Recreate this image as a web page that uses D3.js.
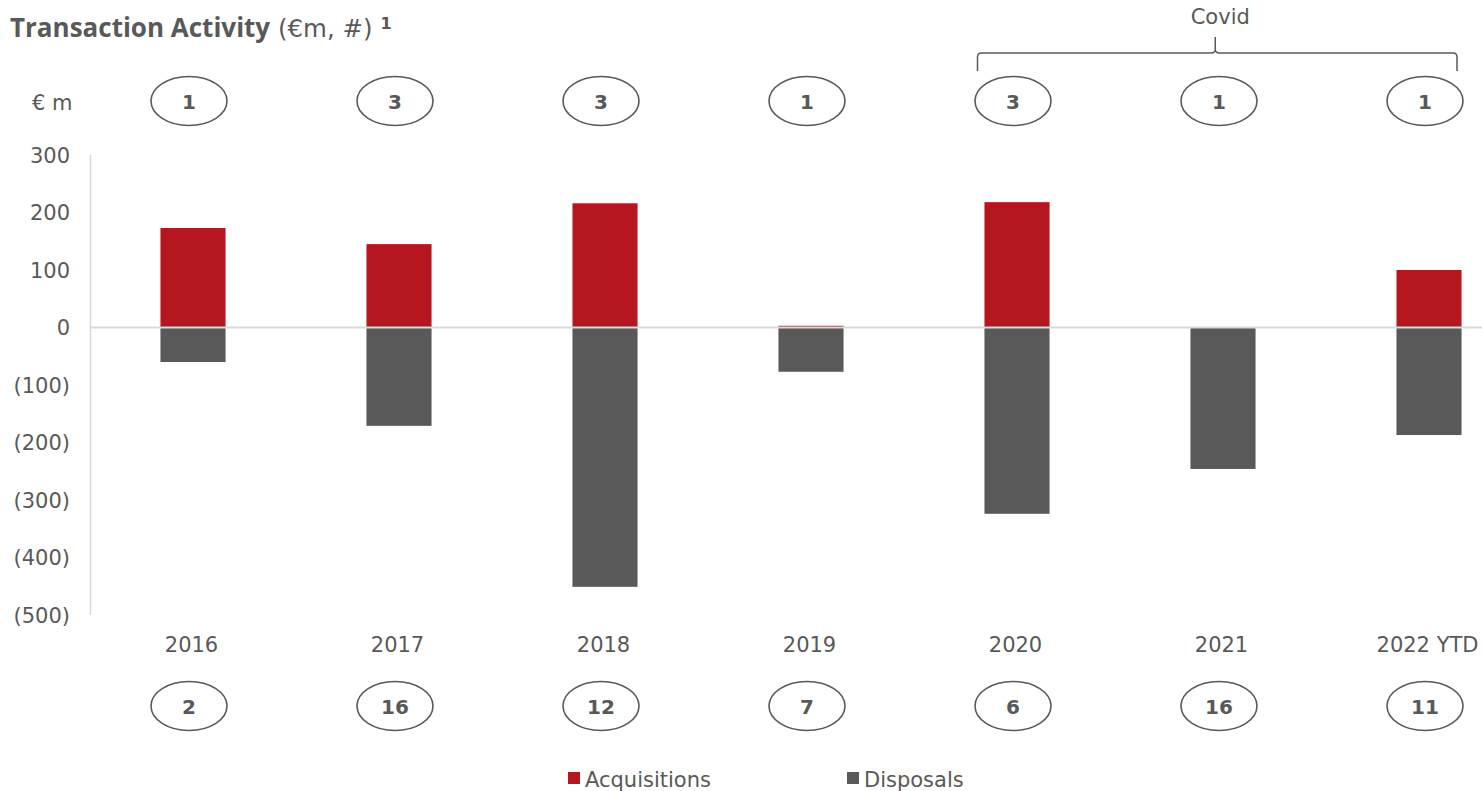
<!DOCTYPE html>
<html>
<head>
<meta charset="utf-8">
<script src="https://cdn.jsdelivr.net/npm/d3@7"></script>
<style>
  html, body { margin: 0; padding: 0; background: #fff; overflow: hidden; }
  svg { display: block; }
  .lbl { font-family: "DejaVu Sans", sans-serif; }
  .ttl { font-family: "Open Sans", sans-serif; }
</style>
</head>
<body>
<svg id="chart" width="1482" height="791"></svg>
<script>
// Transaction activity by year: acquisition and disposal values (€m) plus deal counts
const years = ["2016", "2017", "2018", "2019", "2020", "2021", "2022 YTD"];
const acquisitions = [173, 145, 216, 3, 218, 0, 100];
const disposals = [-60, -171, -451, -77, -324, -246, -187];
const acquisitionCounts = [1, 3, 3, 1, 3, 1, 1];
const disposalCounts = [2, 16, 12, 7, 6, 16, 11];
const yTicks = [300, 200, 100, 0, -100, -200, -300, -400, -500];
const covidYears = ["2020", "2021", "2022 YTD"];

const RED = "#B5161F";
const GREY = "#595959";
const TEXT = "#595959";
const LIGHT = "#D9D9D9";
const FS = 21;

const svg = d3.select("#chart");

const x = d3.scaleBand().domain(years).range([90, 1532]).paddingInner(0.684).paddingOuter(0.342);
const y = d3.scaleLinear().domain([-500, 300]).range([615, 155]);

// Title
const title = svg.append("text")
  .attr("x", 10).attr("y", 37)
  .attr("fill", TEXT);
title.append("tspan").attr("class", "ttl").attr("font-weight", 700).attr("font-size", 26).text("Transaction Activity");
title.append("tspan").attr("class", "lbl").attr("font-size", 24.5).text(" (€m, #) ");
title.append("tspan").attr("class", "lbl").attr("font-weight", 700).attr("font-size", 16).attr("dy", -8).text("1");

// Unit label
svg.append("text")
  .attr("class", "lbl")
  .attr("x", 32).attr("y", 110)
  .attr("fill", TEXT).attr("font-size", FS)
  .text("€ m");

// Y axis line
svg.append("line")
  .attr("x1", 90.5).attr("x2", 90.5)
  .attr("y1", y(300)).attr("y2", y(-500))
  .attr("stroke", LIGHT).attr("stroke-width", 1.5);

// Y tick labels
const fmt = v => v < 0 ? `(${Math.abs(v)})` : `${v}`;
svg.append("g").selectAll("text")
  .data(yTicks).join("text")
  .attr("class", "lbl")
  .attr("x", 70).attr("y", d => y(d) + 7.5)
  .attr("text-anchor", "end")
  .attr("fill", TEXT).attr("font-size", FS)
  .text(fmt);

// Bars
const bars = svg.append("g");
bars.selectAll("rect.acq")
  .data(years.map((yr, i) => ({ yr, v: acquisitions[i] })))
  .join("rect").attr("class", "acq")
  .attr("x", d => x(d.yr)).attr("width", x.bandwidth())
  .attr("y", d => y(d.v)).attr("height", d => y(0) - y(d.v))
  .attr("fill", RED);
bars.selectAll("rect.dis")
  .data(years.map((yr, i) => ({ yr, v: disposals[i] })))
  .join("rect").attr("class", "dis")
  .attr("x", d => x(d.yr)).attr("width", x.bandwidth())
  .attr("y", y(0)).attr("height", d => y(d.v) - y(0))
  .attr("fill", GREY);

// Zero line
svg.append("line")
  .attr("x1", 90).attr("x2", 1482)
  .attr("y1", y(0)).attr("y2", y(0))
  .attr("stroke", LIGHT).attr("stroke-width", 2);

// Year labels
const cx = d => x(d) + x.bandwidth() / 2;
svg.append("g").selectAll("text")
  .data(years).join("text")
  .attr("class", "lbl")
  .attr("x", d => cx(d) - 1.5).attr("y", 652)
  .attr("text-anchor", "middle")
  .attr("fill", TEXT).attr("font-size", FS)
  .text(d => d);

// Deal-count ellipses
function countRow(counts, cy) {
  const g = svg.append("g").selectAll("g")
    .data(years.map((yr, i) => ({ yr, n: counts[i] })))
    .join("g")
    .attr("transform", d => `translate(${cx(d.yr) - 4},${cy})`);
  g.append("ellipse")
    .attr("rx", 38).attr("ry", 24.5)
    .attr("fill", "none").attr("stroke", TEXT).attr("stroke-width", 1.6);
  g.append("text")
    .attr("class", "lbl")
    .attr("y", 7.5).attr("text-anchor", "middle")
    .attr("fill", TEXT).attr("font-size", 20).attr("font-weight", 700)
    .text(d => d.n);
}
countRow(acquisitionCounts, 101);
countRow(disposalCounts, 706);

// Covid brace over the last three years
const bx0 = cx(covidYears[0]) - 41.5 + 2;
const bx1 = cx(covidYears[covidYears.length - 1]) + 28;
const bmid = (bx0 + bx1) / 2 - 2;
const bTop = 53, bEnd = 71, bTip = 37;
const brace = d3.path();
brace.moveTo(bx0, bEnd);
brace.lineTo(bx0, bTop + 4);
brace.quadraticCurveTo(bx0, bTop, bx0 + 4, bTop);
brace.lineTo(bmid - 4, bTop);
brace.quadraticCurveTo(bmid, bTop, bmid, bTop - 4);
brace.lineTo(bmid, bTip);
brace.moveTo(bmid, bTop - 4);
brace.quadraticCurveTo(bmid, bTop, bmid + 4, bTop);
brace.lineTo(bx1 - 4, bTop);
brace.quadraticCurveTo(bx1, bTop, bx1, bTop + 4);
brace.lineTo(bx1, bEnd);
svg.append("path")
  .attr("d", brace.toString())
  .attr("fill", "none").attr("stroke", TEXT).attr("stroke-width", 1.5);
svg.append("text")
  .attr("class", "lbl")
  .attr("x", bmid + 5).attr("y", 24)
  .attr("text-anchor", "middle")
  .attr("fill", TEXT).attr("font-size", FS)
  .text("Covid");

// Legend
const legend = [
  { label: "Acquisitions", color: RED, x: 568 },
  { label: "Disposals", color: GREY, x: 847 }
];
const lg = svg.append("g").selectAll("g").data(legend).join("g")
  .attr("transform", d => `translate(${d.x},772)`);
lg.append("rect").attr("width", 12).attr("height", 12).attr("fill", d => d.color);
lg.append("text")
  .attr("class", "lbl")
  .attr("x", 17).attr("y", 15)
  .attr("fill", TEXT).attr("font-size", FS)
  .text(d => d.label);
</script>
</body>
</html>
